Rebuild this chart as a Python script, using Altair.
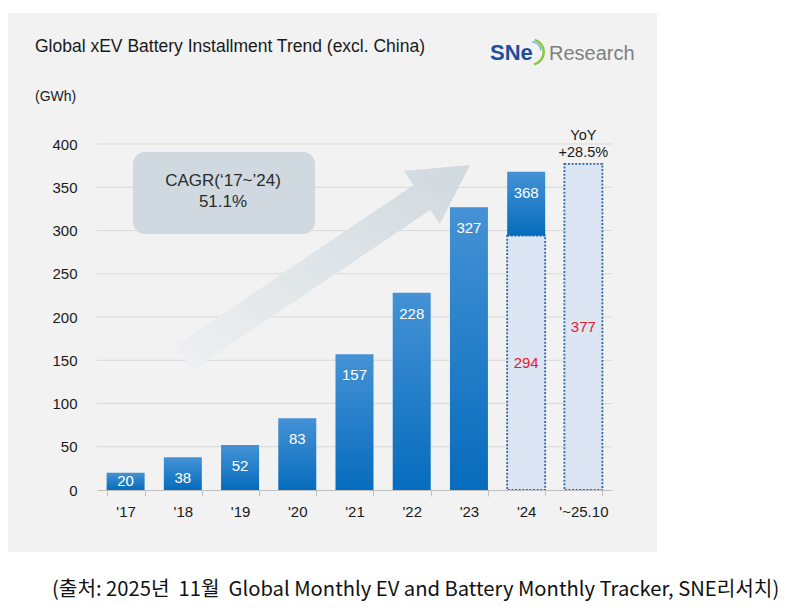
import math
import altair as alt
import pandas as pd

# ---------------- data ----------------
years = ["'17", "'18", "'19", "'20", "'21", "'22", "'23", "'24", "'~25.10"]
installed_years = ["'17", "'18", "'19", "'20", "'21", "'22", "'23", "'24"]
installed_vals = [20, 38, 52, 83, 157, 228, 327, 368]
ytd_years = ["'24", "'~25.10"]
ytd_vals = [294, 377]
y_ticks = [0, 50, 100, 150, 200, 250, 300, 350, 400]
title_text = "Global xEV Battery Installment Trend (excl. China)"
unit_text = "(GWh)"
cagr_lines = ["CAGR(\u201817~\u201924)", "51.1%"]
yoy_lines = ["YoY", "+28.5%"]
caption_text = "(출처: 2025년\u00a0 11월\u00a0 Global Monthly EV and Battery Monthly Tracker, SNE리서치)"

ytd_map = dict(zip(ytd_years, ytd_vals))
solid = pd.DataFrame({
    "year": installed_years,
    "v": installed_vals,
    # the '24 full-year segment sits on top of its Jan~Oct part
    "base": [ytd_map.get(y, 0) if y == installed_years[-1] else 0
             for y in installed_years],
})
ytd = pd.DataFrame({"year": ytd_years, "v": ytd_vals})
grid = pd.DataFrame({"g": [t for t in y_ticks if t > 0]})

# ---------------- layout ----------------
W, H = 515, 346
PL, PT = 97, 144
FONT = "Liberation Sans"
one = alt.Data(values=[{}])

xs = alt.Scale(domain=years, paddingInner=0.336, paddingOuter=0.168)
ys = alt.Scale(domain=[0, 400], nice=False)

x_axis = alt.Axis(title=None, labelAngle=0, labelFontSize=15, labelColor="#1a1a1a",
                  labelFont=FONT, domainColor="#bfbfbf", tickColor="#bfbfbf",
                  tickSize=6, tickBand="extent", labelPadding=8, grid=False, zindex=1)
y_axis = alt.Axis(title=None, values=y_ticks, labelFontSize=15, labelColor="#1a1a1a",
                  labelFont=FONT, ticks=False, domain=False, grid=False,
                  labelPadding=20, zindex=1)

def px(v):
    return alt.value(v - PL)

def py(v):
    return alt.value(v - PT)

# gray panel
panel = alt.Chart(one).mark_rect(color="#f2f2f2").encode(
    x=px(8), x2=px(657), y=py(13), y2=py(552))

gridlines = alt.Chart(grid).mark_rule(color="#d9d9d9", strokeWidth=1).encode(
    y=alt.Y("g:Q", scale=ys, axis=y_axis))

# arrow (decorative)
tail = (184.0, 358.0)
tip = (470.0, 165.0)
dx, dy = tip[0] - tail[0], tip[1] - tail[1]
L = math.hypot(dx, dy)
u = (dx / L, dy / L)
n = (-u[1], u[0])
w, hl, hw = 15.0, 58.0, 32.0
def pt(a, b):
    return (tail[0] + u[0] * a + n[0] * b, tail[1] + u[1] * a + n[1] * b)
pts = [pt(0, w), pt(L - hl, w), pt(L - hl, hw), pt(L, 0), pt(L - hl, -hw),
       pt(L - hl, -w), pt(0, -w)]
cx, cy = (tail[0] + tip[0]) / 2, (tail[1] + tip[1]) / 2
S = 200.0
path = "M " + " L ".join(f"{(x - cx) / S:.4f} {(y - cy) / S:.4f}" for x, y in pts) + " Z"
arrow_grad = alt.Gradient(gradient="linear", x1=0, y1=1, x2=1, y2=0,
                          stops=[alt.GradientStop(offset=0, color="#eef0f1"),
                                 alt.GradientStop(offset=1, color="#d0d9df")])
arrow = alt.Chart(one).mark_point(shape=path, size=(2 * S) ** 2, filled=True,
                                  fill=arrow_grad, opacity=1, strokeWidth=0).encode(
    x=px(cx), y=py(cy))

# CAGR box
cagr_box = alt.Chart(one).mark_rect(color="#d0d9df", cornerRadius=12).encode(
    x=px(133), x2=px(315), y=py(152), y2=py(234))
cagr_t1 = alt.Chart(one).mark_text(text=cagr_lines[0], font=FONT, fontSize=17,
                                   color="#2b2b2b", baseline="middle").encode(
    x=px(223), y=py(181))
cagr_t2 = alt.Chart(one).mark_text(text=cagr_lines[1], font=FONT, fontSize=17,
                                   color="#2b2b2b", baseline="middle").encode(
    x=px(223), y=py(202))

# bars
bar_grad = alt.Gradient(gradient="linear", x1=0, y1=0, x2=0, y2=1,
                        stops=[alt.GradientStop(offset=0, color="#4592d5"),
                               alt.GradientStop(offset=1, color="#066cbd")])
ytd_bars = alt.Chart(ytd).mark_bar(fill="#dbe5f3", stroke="#2f69a6", strokeWidth=1.8,
                                   strokeDash=[2, 1.6]).encode(
    x=alt.X("year:N", scale=xs, sort=years, axis=x_axis),
    y=alt.Y("v:Q", scale=ys, axis=y_axis),
    y2=alt.datum(0))
solid_bars = alt.Chart(solid).mark_bar(fill=bar_grad).encode(
    x=alt.X("year:N", scale=xs, sort=years, axis=x_axis),
    y=alt.Y("v:Q", scale=ys, axis=y_axis),
    y2="base:Q")

big_labels = alt.Chart(solid).transform_filter("datum.v >= 30").mark_text(
    font=FONT, fontSize=15, color="white", baseline="middle", dy=21).encode(
    x=alt.X("year:N", scale=xs, sort=years, axis=x_axis),
    y=alt.Y("v:Q", scale=ys, axis=y_axis),
    text="v:Q")
small_labels = alt.Chart(solid).transform_filter("datum.v < 30").transform_calculate(
    mid="datum.v / 2").mark_text(
    font=FONT, fontSize=15, color="white", baseline="middle").encode(
    x=alt.X("year:N", scale=xs, sort=years, axis=x_axis),
    y=alt.Y("mid:Q", scale=ys, axis=y_axis),
    text="v:Q")
ytd_labels = alt.Chart(ytd).transform_calculate(mid="datum.v / 2").mark_text(
    font=FONT, fontSize=15, color="#e3202b", baseline="middle").encode(
    x=alt.X("year:N", scale=xs, sort=years, axis=x_axis),
    y=alt.Y("mid:Q", scale=ys, axis=y_axis),
    text="v:Q")

yoy_df = pd.DataFrame({"year": [years[-1], years[-1]], "t": yoy_lines, "row": [0, 1]})
yoy1 = alt.Chart(yoy_df).transform_filter("datum.row == 0").mark_text(
    font=FONT, fontSize=14.5, color="#1a1a1a", baseline="middle").encode(
    x=alt.X("year:N", scale=xs, sort=years, axis=x_axis), y=py(136), text="t:N")
yoy2 = alt.Chart(yoy_df).transform_filter("datum.row == 1").mark_text(
    font=FONT, fontSize=14.5, color="#1a1a1a", baseline="middle").encode(
    x=alt.X("year:N", scale=xs, sort=years, axis=x_axis), y=py(153), text="t:N")

# titles / logo / caption
title = alt.Chart(one).mark_text(text=title_text, font=FONT, fontSize=17.5,
                                 color="#1a1a1a", align="left", baseline="middle").encode(
    x=px(35), y=py(47))
unit = alt.Chart(one).mark_text(text=unit_text, font=FONT, fontSize=14,
                                color="#1a1a1a", align="left", baseline="middle").encode(
    x=px(35), y=py(97))
logo1 = alt.Chart(one).mark_text(text="SNe", font=FONT, fontSize=22, fontWeight="bold",
                                 color="#1d4f9c", align="left", baseline="middle").encode(
    x=px(490), y=py(53))
logo_arc1 = alt.Chart(one).mark_arc(radius=14, radius2=11.5, theta=0.3, theta2=2.9,
                                    color="#8cc63f").encode(x=px(531), y=py(52))
logo_arc2 = alt.Chart(one).mark_arc(radius=11, radius2=9.5, theta=0.1, theta2=1.4,
                                    color="#59b8e6").encode(x=px(531), y=py(52))
logo2 = alt.Chart(one).mark_text(text="Research", font=FONT, fontSize=20,
                                 color="#7f7f7f", align="left", baseline="middle").encode(
    x=px(549), y=py(54))
caption = alt.Chart(one).mark_text(text=caption_text, font="Noto Sans CJK KR", fontSize=20.2,
                                   color="#111111", align="left", baseline="middle").encode(
    x=px(52), y=py(590))

chart = alt.layer(
    panel, gridlines, arrow, cagr_box, cagr_t1, cagr_t2,
    ytd_bars, solid_bars, big_labels, small_labels, ytd_labels, yoy1, yoy2,
    title, unit, logo1, logo_arc1, logo_arc2, logo2, caption,
).properties(
    width=W, height=H,
    autosize=alt.AutoSizeParams(type="none"),
    padding={"left": PL, "top": PT, "right": 801 - PL - W, "bottom": 614 - PT - H},
    background="white",
).configure_view(stroke=None)

chart.save("out.html", embed_options={"renderer": "svg", "actions": False})
